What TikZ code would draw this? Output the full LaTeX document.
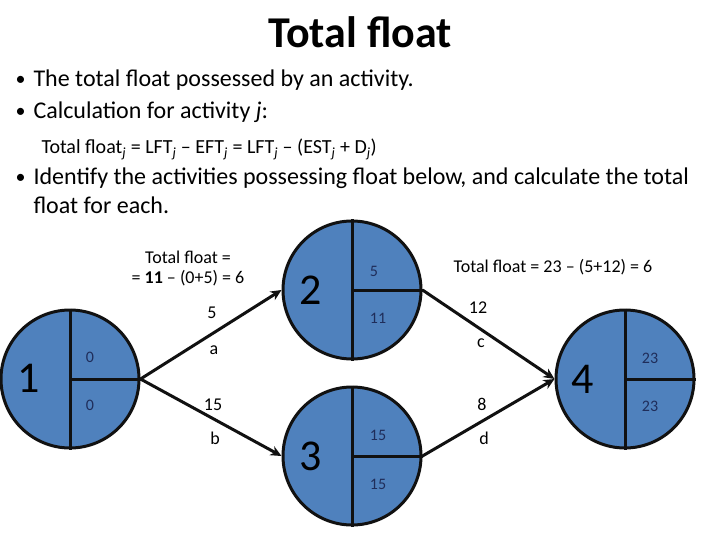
\documentclass[tikz,border=0pt]{standalone}
\usepackage{fontspec}
\setmainfont{Carlito}
\usepackage{tikz}
\usetikzlibrary{arrows.meta,positioning}
\usepackage{xcolor}
\definecolor{evFill}{HTML}{4F81BD}
\definecolor{evLine}{HTML}{111111}
\definecolor{evNum}{HTML}{1F2D5A}
\tikzset{
    event/.style={circle, draw=evLine, fill=evFill, line width=3pt, minimum size=138pt, inner sep=0pt},
    divider/.style={evLine, line width=3pt},
    bignum/.style={font=\fontsize{44}{44}\selectfont, text=black},
    smallnum/.style={font=\fontsize{16}{16}\selectfont, text=evNum},
    actlabel/.style={font=\fontsize{18}{18}\selectfont},
    bullet/.style={anchor=base west, font=\fontsize{24}{28}\selectfont},
    activity/.style={-{Stealth[length=11pt,width=10pt]}, line width=3pt, evLine}
}

\begin{document}
\begin{tikzpicture}[x=1pt, y=-1pt]

    \useasboundingbox (0,0) rectangle (720,540);

    % Title and bullets
    \node[font=\fontsize{44}{44}\selectfont\bfseries, anchor=base] (title) at (360,48) {Total float};
    \node[bullet, font=\fontsize{20}{24}\selectfont] (dot1) at (12,86) {\textbullet};
    \node[bullet] (line1) at (30,87) {The total float possessed by an activity.};
    \node[bullet, font=\fontsize{20}{24}\selectfont] (dot2) at (12,118) {\textbullet};
    \node[bullet] (line2) at (30,119) {Calculation for activity \textit{j}:};
    \node[bullet, font=\fontsize{20}{22}\selectfont] (formula) at (38,154) {Total float\textsubscript{\textit{j}} = LFT\textsubscript{\textit{j}} -- EFT\textsubscript{\textit{j}} = LFT\textsubscript{\textit{j}} -- (EST\textsubscript{\textit{j}} + D\textsubscript{\textit{j}})};
    \node[bullet, font=\fontsize{20}{24}\selectfont] (dot3) at (12,184) {\textbullet};
    \node[bullet] (line3) at (30,185) {Identify the activities possessing float below, and calculate the total};
    \node[bullet] (line4) at (30,214) {float for each.};

    % Events
    \node[event] (n1) at (70,379) {};
    \node[event] (n2) at (352,290) {};
    \node[event] (n3) at (352,456) {};
    \node[event] (n4) at (625,379) {};

    % Dividers inside events
    \foreach \ev in {n1,n2,n3,n4} {
        \draw[divider] (\ev.north) -- (\ev.south);
        \draw[divider] (\ev.center) -- (\ev.east);
    }

    % Event numbers
    \node[bignum] (num1) at (29,378) {1};
    \node[bignum] (num2) at (311,290) {2};
    \node[bignum] (num3) at (311,456) {3};
    \node[bignum] (num4) at (583,379) {4};

    % Earliest / latest times
    \node[smallnum] (e1) at (90,357) {0};
    \node[smallnum] (l1) at (90,405) {0};
    \node[smallnum] (e2) at (374,271) {5};
    \node[smallnum] (l2) at (378,318) {11};
    \node[smallnum] (e3) at (378,435) {15};
    \node[smallnum] (l3) at (378,484) {15};
    \node[smallnum] (e4) at (650,358) {23};
    \node[smallnum] (l4) at (650,406) {23};

    % Activity arrows
    \draw[activity] (n1.east) -- (n2.west);
    \draw[activity] (n1.east) -- (n3.west);
    \draw[activity] (n2.east) -- (n4.west);
    \draw[activity] (n3.east) -- (n4.west);

    % Activity durations and names
    \node[actlabel] (da) at (212,313) {5};
    \node[actlabel] (aa) at (214,350) {a};
    \node[actlabel] (db) at (213,405) {15};
    \node[actlabel] (ab) at (215,438) {b};
    \node[actlabel] (dc) at (478,308) {12};
    \node[actlabel] (ac) at (481,343) {c};
    \node[actlabel] (dd) at (482,404) {8};
    \node[actlabel] (ad) at (484,438) {d};

    % Float calculations
    \node[actlabel] (tfa1) at (188,257) {Total float =};
    \node[actlabel] (tfa2) at (188,278) {= \textbf{11} -- (0+5) = 6};
    \node[actlabel] (tfc) at (553,267) {Total float = 23 -- (5+12) = 6};

\end{tikzpicture}
\end{document}
